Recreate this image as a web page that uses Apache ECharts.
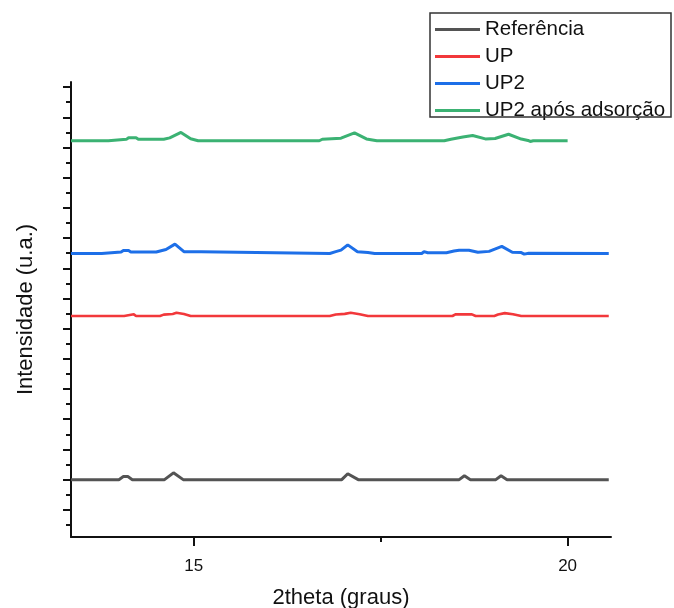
<!DOCTYPE html>
<html>
<head>
<meta charset="utf-8">
<script src="https://cdn.jsdelivr.net/npm/echarts@6/dist/echarts.min.js"></script>
<style>
  html, body { margin: 0; padding: 0; background: #fff; }
  #chart { width: 674px; height: 608px; }
</style>
</head>
<body>
<div id="chart"></div>
<script>
// difratogramas - valores (u.a. arbitrárias)
const seriesNames = ['Referência', 'UP', 'UP2', 'UP2 após adsorção']
const seriesColors = ['#545454', '#f2383b', '#1d6fe8', '#3bb273']

const referencia = [
  [13.36, 3.0], [14.0, 3.0], [14.06, 3.2], [14.12, 3.2], [14.18, 3.0],
  [14.61, 3.0], [14.73, 3.45], [14.86, 3.0], [16.98, 3.0], [17.06, 3.39],
  [17.2, 3.0], [18.55, 3.0], [18.62, 3.26], [18.7, 3.0], [19.04, 3.0],
  [19.11, 3.26], [19.19, 3.0], [20.55, 3.0]
]

const up = [
  [13.36, 13.84], [14.07, 13.84], [14.09, 13.95], [14.2, 13.95], [14.23, 13.84],
  [14.55, 13.84], [14.6, 13.93], [14.72, 13.97], [14.77, 14.05], [14.87, 13.97],
  [14.96, 13.84], [16.05, 13.84], [16.06, 13.78], [16.08, 13.84], [16.82, 13.84],
  [16.9, 13.94], [17.02, 13.98], [17.1, 14.05], [17.22, 13.96], [17.33, 13.84],
  [18.46, 13.84], [18.5, 13.95], [18.72, 13.95], [18.77, 13.84], [19.02, 13.84],
  [19.07, 13.94], [19.16, 14.03], [19.27, 13.96], [19.38, 13.84], [19.99, 13.84],
  [20.0, 13.78], [20.02, 13.84], [20.55, 13.84]
]

const up2 = [
  [13.36, 17.98], [13.77, 17.98], [13.79, 18.08], [14.03, 18.08], [14.06, 18.18],
  [14.13, 18.18], [14.16, 18.08], [14.5, 18.08], [14.63, 18.24], [14.75, 18.6],
  [14.87, 18.1], [15.1, 18.1], [15.12, 17.98], [16.82, 17.98], [16.9, 18.1],
  [16.97, 18.2], [17.06, 18.55], [17.19, 18.1], [17.33, 18.05], [17.42, 17.98],
  [18.05, 17.98], [18.08, 18.1], [18.13, 18.03], [18.38, 18.03], [18.48, 18.14],
  [18.55, 18.2], [18.68, 18.2], [18.8, 18.06], [18.95, 18.12], [19.12, 18.45],
  [19.26, 18.06], [19.38, 18.04], [19.42, 17.94], [19.48, 18.0], [20.55, 17.98]
]

const up2Adsorcao = [
  [13.36, 25.45], [13.86, 25.45], [13.88, 25.54], [14.1, 25.54], [14.13, 25.65],
  [14.23, 25.65], [14.26, 25.55], [14.6, 25.55], [14.68, 25.64], [14.83, 26.0],
  [14.96, 25.58], [15.06, 25.45], [16.68, 25.45], [16.72, 25.55], [16.97, 25.62],
  [17.15, 25.97], [17.31, 25.57], [17.45, 25.45], [18.35, 25.45], [18.44, 25.55],
  [18.6, 25.7], [18.73, 25.8], [18.9, 25.57], [19.03, 25.6], [19.21, 25.88],
  [19.38, 25.56], [19.47, 25.47], [19.5, 25.4], [19.54, 25.45], [20.0, 25.45]
]

// eixos
const xLabelTicks = [15, 20]
const xMinorTicks = [17.5]
const yMajorTicks = [1, 3, 5, 7, 9, 11, 13, 15, 17, 19, 21, 23, 25, 27, 29]
const yMinorTicks = [0, 2, 4, 6, 8, 10, 12, 14, 16, 18, 20, 22, 24, 26, 28]

const seriesData = [referencia, up, up2, up2Adsorcao]
const FONT = '"Liberation Sans", Arial, sans-serif'
const xMin = 13.36, xMax = 20.58
const yMin = -0.8, yMax = 29.34

const chart = echarts.init(document.getElementById('chart'))

const option = {
  animation: false,
  backgroundColor: '#fff',
  textStyle: { fontFamily: FONT },
  grid: [
    { left: 71, right: 63, top: 82, bottom: 71, containLabel: false, outerBoundsMode: 'none' },
    // grade auxiliar (10 -> 25) só para os ticks longos em 15 e 20
    { left: -180, right: -268, top: 82, bottom: 71, containLabel: false, outerBoundsMode: 'none' }
  ],
  legend: {
    data: seriesNames,
    orient: 'vertical',
    left: 435,
    top: 19,
    padding: 0,
    icon: 'rect',
    itemWidth: 45,
    itemHeight: 3,
    itemGap: 6.0,
    textStyle: { fontFamily: FONT, fontSize: 20.5, color: '#111', lineHeight: 20 }
  },
  graphic: [{
    type: 'rect',
    shape: { x: 430, y: 13, width: 241, height: 104 },
    style: { fill: 'none', stroke: '#333', lineWidth: 1.5 },
    z: 10
  }],
  xAxis: [{
    type: 'value',
    gridIndex: 0,
    min: xMin,
    max: xMax,
    name: '2theta (graus)',
    nameLocation: 'middle',
    nameGap: 50,
    nameTextStyle: { fontFamily: FONT, fontSize: 22, color: '#111' },
    splitLine: { show: false },
    axisLine: { onZero: false, lineStyle: { color: '#111', width: 2 } },
    axisTick: { show: true, customValues: xLabelTicks, length: 9, lineStyle: { color: '#111', width: 2 } },
    axisLabel: { customValues: xLabelTicks, fontSize: 17, color: '#111', margin: 21, fontFamily: FONT }
  }, {
    type: 'value',
    gridIndex: 0,
    position: 'bottom',
    offset: 0,
    min: xMin,
    max: xMax,
    splitLine: { show: false },
    axisLine: { show: false, onZero: false },
    axisTick: { show: true, customValues: xMinorTicks, length: 5, lineStyle: { color: '#111', width: 2 } },
    axisLabel: { show: false }
  }, {
    type: 'value',
    gridIndex: 1,
    min: 10,
    max: 25,
    interval: 5,
    splitLine: { show: false },
    axisLine: { show: false, onZero: false },
    axisTick: { show: true, length: 9, lineStyle: { color: '#111', width: 2 } },
    axisLabel: { show: false }
  }],
  yAxis: [{
    type: 'value',
    gridIndex: 0,
    min: yMin,
    max: yMax,
    name: 'Intensidade (u.a.)',
    nameLocation: 'middle',
    nameGap: 34,
    nameTextStyle: { fontFamily: FONT, fontSize: 22, color: '#111' },
    splitLine: { show: false },
    axisLine: { onZero: false, lineStyle: { color: '#111', width: 2 } },
    axisTick: { customValues: yMajorTicks, length: 8, lineStyle: { color: '#111', width: 2 } },
    axisLabel: { show: false }
  }, {
    type: 'value',
    gridIndex: 0,
    position: 'left',
    offset: 0,
    min: yMin,
    max: yMax,
    splitLine: { show: false },
    axisLine: { show: false, onZero: false },
    axisTick: { customValues: yMinorTicks, length: 5, lineStyle: { color: '#111', width: 2 } },
    axisLabel: { show: false }
  }, {
    type: 'value',
    gridIndex: 1,
    min: 0,
    max: 1,
    show: false
  }],
  series: seriesNames.map((name, i) => ({
    name: name,
    type: 'line',
    xAxisIndex: 0,
    yAxisIndex: 0,
    data: seriesData[i],
    symbol: 'none',
    showSymbol: false,
    color: seriesColors[i],
    lineStyle: { color: seriesColors[i], width: i === 1 ? 2.6 : 3 }
  }))
}

chart.setOption(option)
</script>
</body>
</html>
